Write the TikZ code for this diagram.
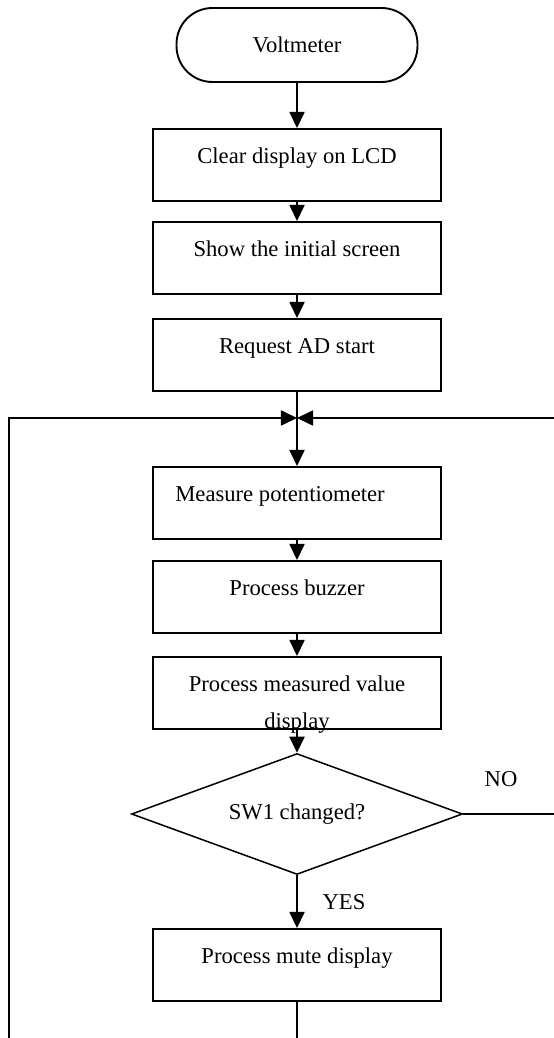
\documentclass[tikz,border=0pt]{standalone}
\usepackage{fontspec}
\setmainfont{Liberation Serif}
\usetikzlibrary{shapes,arrows.meta}

\begin{document}
\begin{tikzpicture}[x=0.53pt,y=-0.53pt,font=\fontsize{12}{14}\selectfont]
\tikzstyle{term}=[draw,line width=1pt,rounded corners=19pt,minimum width=127.7pt,minimum height=39.2pt,inner sep=0pt]
\tikzstyle{blk}=[draw,line width=1pt,minimum width=152.6pt,minimum height=38.2pt,inner sep=0pt,text height=9pt,text depth=11pt]
\tikzstyle{dec}=[draw,diamond,aspect=2.75,line width=0.8pt,minimum width=175.4pt,minimum height=64.1pt,inner sep=0pt]
\tikzstyle{ln}=[line width=0.8pt]
\tikzstyle{arr}=[ln,-{Triangle[length=8.5pt,width=8pt]}]
\useasboundingbox (0,0) rectangle (554,1038);

\node[term] (N1) at (297,45) {Voltmeter};
\node[blk] (N2) at (297,165) {Clear display on LCD};
\node[blk] (N3) at (297,258) {Show the initial screen};
\node[blk] (N4) at (297,355) {Request AD start};
\node[blk] (N5) at (297,503) {Measure potentiometer\hspace*{18pt}};
\node[blk] (N6) at (297,597) {Process buzzer};
\node[blk] (N7) at (297,693) {\begin{tabular}[t]{@{}c@{}}Process measured value\\[6pt]display\end{tabular}};
\node[dec] (N8) at (297,814) {SW1 changed?};
\node[blk] (N9) at (297,965) {Process mute display};
\node (NO)  at (501,779) {NO};
\node (YES) at (344,902) {YES};

\coordinate (J)  at (297,418);
\coordinate (L1) at (9,418);
\coordinate (L2) at (9,1038);
\coordinate (R1) at (554,418);
\coordinate (R2) at (554,814);
\coordinate (B1) at (297,1038);

\draw[arr] (N1) -- (N2);
\draw[arr] (N2) -- (N3);
\draw[arr] (N3) -- (N4);
\draw[arr] (N4) -- (N5);
\draw[arr] (N5) -- (N6);
\draw[arr] (N6) -- (N7);
\draw[arr] (N7) -- (N8);
\draw[arr] (N8) -- (N9);
\draw[ln] (N9) -- (B1);
\draw[arr] (L2) -- (L1) -- (J);
\draw[arr] (R1) -- (J);
\draw[ln] (N8.east) -- (R2);
\end{tikzpicture}
\end{document}
